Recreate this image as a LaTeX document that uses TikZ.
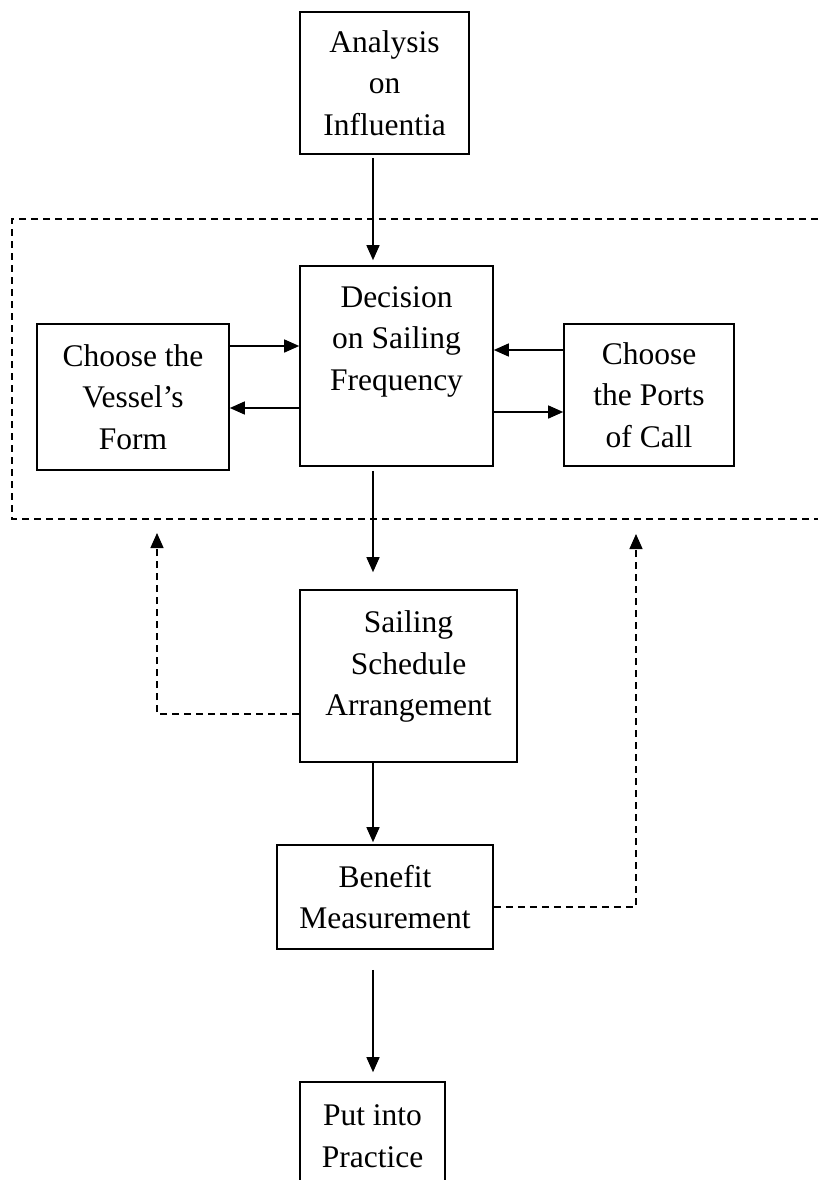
\documentclass[tikz,border=0pt]{standalone}
\usepackage{fontspec}
\setmainfont{Liberation Serif}
\usetikzlibrary{arrows.meta}
\begin{document}
\begin{tikzpicture}[x=1pt,y=-1pt,
  box/.style={draw, line width=1.6pt, inner sep=0pt, align=center,
    font=\fontsize{31.5}{41.5}\selectfont},
  tip/.style={-{Triangle[length=15pt,width=13pt]}},
  arr/.style={line width=1.4pt, tip},
  dsh/.style={line width=1.4pt, dash pattern=on 7pt off 5pt},
]
\path[use as bounding box, clip] (0,0) rectangle (818,1180);

% boxes
\node[box, minimum width=169pt, minimum height=142pt] (ana) at (384.5,83) {Analysis\\on\\Influentia};
\node[box, minimum width=193pt, minimum height=200pt] (dec) at (396.5,366) {Decision\\on Sailing\\Frequency\\[13.5pt]\mbox{}};
\node[box, minimum width=192pt, minimum height=146pt] (ves) at (133,397) {Choose the\\Vessel's\\Form};
\node[box, minimum width=170pt, minimum height=142pt] (prt) at (649,395) {Choose\\the Ports\\of Call};
\node[box, minimum width=217pt, minimum height=172pt] (sai) at (408.5,676) {Sailing\\Schedule\\Arrangement\\[-16.5pt]\mbox{}};
\node[box, minimum width=216pt, minimum height=104pt] (ben) at (385,897) {Benefit\\Measurement};
\node[box, minimum width=145pt, minimum height=108pt] (pra) at (372.5,1136) {Put into\\Practice};

% dashed frame
\draw[dsh] (818,219) -- (12,219) -- (12,519) -- (818,519);

% vertical flow
\draw[arr, shorten <=3pt, shorten >=5pt] (ana.south -| 373,0) -- (dec.north -| 373,0);
\draw[arr, shorten <=4pt, shorten >=17pt] (dec.south -| 373,0) -- (sai.north -| 373,0);
\draw[arr, shorten >=2pt] (sai.south -| 373,0) -- (ben.north -| 373,0);
\draw[arr, shorten <=20pt, shorten >=9pt] (ben.south -| 373,0) -- (pra.north -| 373,0);

% horizontal exchanges
\draw[arr] (ves.east |- 0,346) -- (dec.west |- 0,346);
\draw[arr] (dec.west |- 0,408) -- (ves.east |- 0,408);
\draw[arr] (prt.west |- 0,350) -- (dec.east |- 0,350);
\draw[arr] (dec.east |- 0,412) -- (prt.west |- 0,412);

% feedback
\coordinate (fbl) at (157,533);
\coordinate (fbr) at (636,534);
\draw[dsh, tip] (sai.west |- 0,714) -| (fbl);
\draw[dsh, tip] (ben.east |- 0,907) -| (fbr);
\end{tikzpicture}
\end{document}
